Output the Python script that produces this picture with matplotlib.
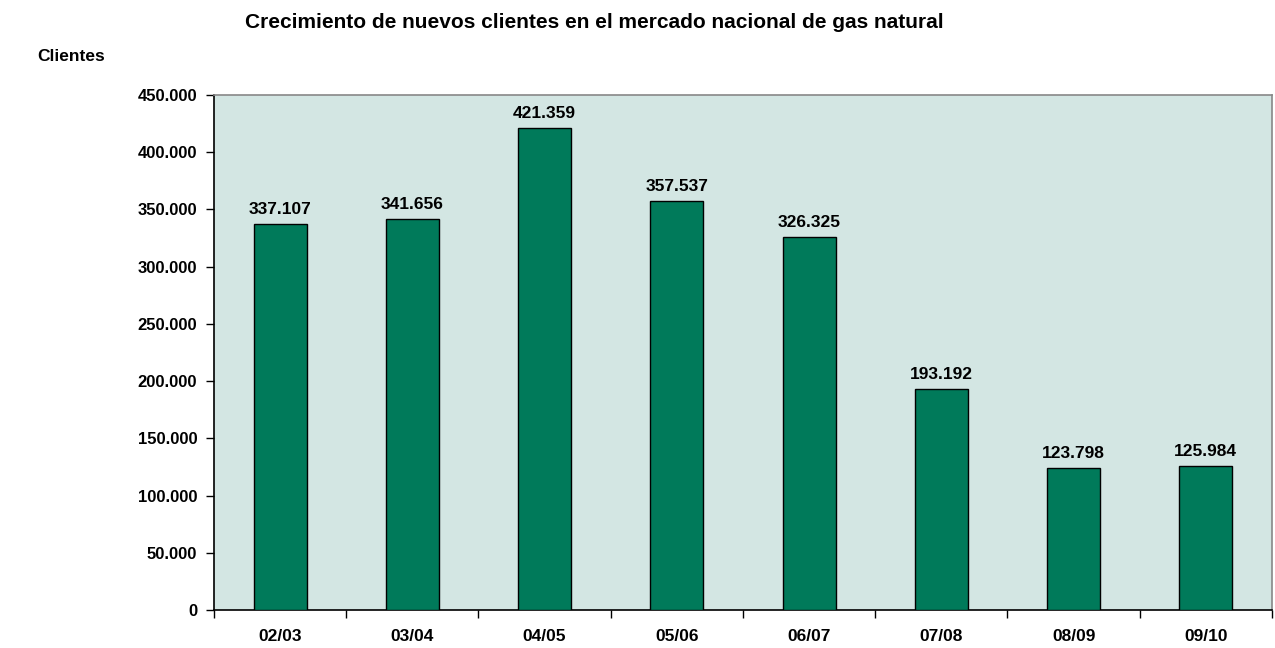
import matplotlib
matplotlib.use("Agg")
import matplotlib.pyplot as plt
from matplotlib.ticker import FuncFormatter, MultipleLocator
import numpy as np

categories = ["02/03", "03/04", "04/05", "05/06", "06/07", "07/08", "08/09", "09/10"]
clientes = [337107, 341656, 421359, 357537, 326325, 193192, 123798, 125984]

plt.rcParams['font.family'] = ['Liberation Sans', 'DejaVu Sans']
plt.rcParams['font.weight'] = 'bold'

fig = plt.figure(figsize=(12.75, 6.48), dpi=100)
ax = fig.add_axes([0.1678, 0.0586, 0.8298, 0.7948])
ax.set_facecolor('#D3E6E3')

x = np.arange(len(categories))
ax.bar(x, clientes, width=0.4, color='#007A5A', edgecolor='black', linewidth=1.0, zorder=3)

def fmt(v):
    return f"{int(round(v)):,}".replace(",", ".")

for xi, v in zip(x, clientes):
    ax.text(xi, v + 6000, fmt(v), ha='center', va='bottom', fontsize=12.5, fontweight='bold')

ax.set_xlim(-0.5, len(categories) - 0.5)
ax.set_ylim(0, 450000)
ax.yaxis.set_major_locator(MultipleLocator(50000))
ax.yaxis.set_major_formatter(FuncFormatter(lambda v, p: fmt(v)))

ax.set_xticks(x)
ax.set_xticklabels(categories)
ax.tick_params(axis='x', which='major', length=0, pad=14, labelsize=12.5)
ax.set_xticks(np.arange(-0.5, len(categories), 1), minor=True)
ax.tick_params(axis='x', which='minor', length=6, direction='out', width=1)
ax.tick_params(axis='y', length=6, direction='out', width=1, labelsize=12, pad=6)
for lab in ax.get_xticklabels() + ax.get_yticklabels():
    lab.set_fontweight('bold')

ax.spines['left'].set_color('black')
ax.spines['bottom'].set_color('black')
ax.spines['top'].set_color('#888888')
ax.spines['right'].set_color('#888888')
for s in ax.spines.values():
    s.set_linewidth(1.2)

fig.text(0.466, 0.966, "Crecimiento de nuevos clientes en el mercado nacional de gas natural",
         ha='center', va='center', fontsize=15, fontweight='bold')
fig.text(0.029, 0.913, "Clientes", ha='left', va='center', fontsize=12.5, fontweight='bold')

fig.savefig("out.png", dpi=100)
